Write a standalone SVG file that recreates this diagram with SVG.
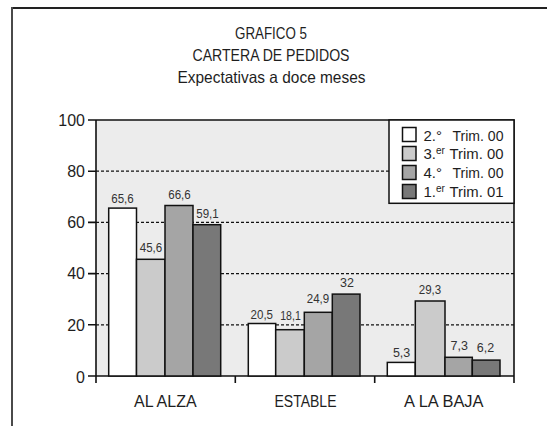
<svg xmlns="http://www.w3.org/2000/svg" width="547" height="426" viewBox="0 0 547 426">
<style>
text{font-family:"Liberation Sans",Arial,sans-serif;fill:#1e1e1e}
.title{font-size:16.5px;text-anchor:middle}
.ylab{font-size:16px;text-anchor:end}
.cat{font-size:16px;text-anchor:middle}
.val{font-size:12.5px;text-anchor:middle;fill:#333}
.leg{font-size:15px}
.sup{font-size:10px}
.bar{stroke:#111;stroke-width:1.5}
.c1{fill:#ffffff}.c2{fill:#cbcbcb}.c3{fill:#a5a5a5}.c4{fill:#787878}
.grid{stroke:#111;stroke-width:1.3;stroke-dasharray:3 2}
.ax{stroke:#111;stroke-width:1.6;fill:none}
</style>
<rect width="547" height="426" fill="#ffffff"/>
<g id="frame">
<line x1="11" y1="8" x2="547" y2="8" stroke="#222" stroke-width="2"/>
<line x1="12" y1="7" x2="12" y2="426" stroke="#4a4a4a" stroke-width="2"/>
</g>
<g id="title">
<text class="title" x="271" y="39" textLength="72" lengthAdjust="spacingAndGlyphs">GRAFICO 5</text>
<text class="title" x="271" y="61" textLength="157" lengthAdjust="spacingAndGlyphs">CARTERA DE PEDIDOS</text>
<text class="title" x="271.5" y="83" textLength="188" lengthAdjust="spacingAndGlyphs">Expectativas a doce meses</text>
</g>
<g id="plot-area">
<rect x="96" y="120" width="418" height="256" fill="#ececec"/>
</g>
<g id="gridlines">
<line class="grid" x1="96" y1="171.2" x2="514" y2="171.2"/>
<line class="grid" x1="96" y1="222.4" x2="514" y2="222.4"/>
<line class="grid" x1="96" y1="273.6" x2="514" y2="273.6"/>
<line class="grid" x1="96" y1="324.8" x2="514" y2="324.8"/>
</g>
<g id="connectors">
<path class="ax" d="M88,120H514V383M96,120V383M88,376H514M88,171.2H96M88,222.4H96M88,273.6H96M88,324.8H96M235.3,376V383M374.7,376V383"/>
</g>
<g id="y-labels">
<text class="ylab" x="85" y="126">100</text>
<text class="ylab" x="85" y="177">80</text>
<text class="ylab" x="85" y="228.2">60</text>
<text class="ylab" x="85" y="279.4">40</text>
<text class="ylab" x="85" y="330.6">20</text>
<text class="ylab" x="85" y="382.5">0</text>
</g>
<g id="al-alza">
<rect class="bar c1" x="108.7" y="208.1" width="27.8" height="167.9"/>
<rect class="bar c2" x="136.5" y="259.3" width="28.5" height="116.7"/>
<rect class="bar c3" x="165" y="205.5" width="28" height="170.5"/>
<rect class="bar c4" x="193" y="224.7" width="27.7" height="151.3"/>
<text class="val" x="122.5" y="202.5" textLength="22.5" lengthAdjust="spacingAndGlyphs">65,6</text>
<text class="val" x="151" y="252" textLength="22.5" lengthAdjust="spacingAndGlyphs">45,6</text>
<text class="val" x="179.5" y="199.2" textLength="22.5" lengthAdjust="spacingAndGlyphs">66,6</text>
<text class="val" x="207.5" y="217.6" textLength="22.5" lengthAdjust="spacingAndGlyphs">59,1</text>
</g>
<g id="estable">
<rect class="bar c1" x="248.3" y="323.5" width="27.4" height="52.5"/>
<rect class="bar c2" x="275.7" y="329.7" width="28.6" height="46.3"/>
<rect class="bar c3" x="304.3" y="312.3" width="28" height="63.7"/>
<rect class="bar c4" x="332.3" y="294.1" width="27.7" height="81.9"/>
<text class="val" x="261.8" y="319.4" textLength="22.5" lengthAdjust="spacingAndGlyphs">20,5</text>
<text class="val" x="290.5" y="320" textLength="20.5" lengthAdjust="spacingAndGlyphs">18,1</text>
<text class="val" x="318" y="303.4" textLength="22.5" lengthAdjust="spacingAndGlyphs">24,9</text>
<text class="val" x="347" y="286.8">32</text>
</g>
<g id="a-la-baja">
<rect class="bar c1" x="387.3" y="362.4" width="28" height="13.6"/>
<rect class="bar c2" x="415.3" y="301" width="29.7" height="75"/>
<rect class="bar c3" x="445" y="357.3" width="27.3" height="18.7"/>
<rect class="bar c4" x="472.3" y="360.1" width="27.7" height="15.9"/>
<text class="val" x="401.6" y="356.8">5,3</text>
<text class="val" x="430" y="294.2" textLength="22.5" lengthAdjust="spacingAndGlyphs">29,3</text>
<text class="val" x="459.3" y="349.5">7,3</text>
<text class="val" x="485.5" y="351.8">6,2</text>
</g>
<g id="category-labels">
<text class="cat" x="165.3" y="406.5">AL ALZA</text>
<text class="cat" x="305.5" y="406.5" textLength="62" lengthAdjust="spacingAndGlyphs">ESTABLE</text>
<text class="cat" x="443.8" y="406.5" textLength="79.5" lengthAdjust="spacingAndGlyphs">A LA BAJA</text>
</g>
<g id="legend">
<rect x="389" y="120" width="125" height="83.3" fill="#ffffff" stroke="#111" stroke-width="1.5"/>
<rect class="bar c1" x="402.5" y="127.5" width="13.5" height="14"/>
<rect class="bar c2" x="402.5" y="146.5" width="13.5" height="14"/>
<rect class="bar c3" x="402.5" y="165.5" width="13.5" height="14"/>
<rect class="bar c4" x="402.5" y="184.5" width="13.5" height="14"/>
<text class="leg" x="423.5" y="140.6">2.°</text>
<text class="leg" x="503.5" y="140.6" text-anchor="end" textLength="51" lengthAdjust="spacingAndGlyphs">Trim. 00</text>
<text class="leg" x="423.5" y="159.2">3.<tspan class="sup" dy="-5">er</tspan></text>
<text class="leg" x="503.5" y="159.2" text-anchor="end" textLength="54" lengthAdjust="spacingAndGlyphs">Trim. 00</text>
<text class="leg" x="423.5" y="178">4.°</text>
<text class="leg" x="503.5" y="178" text-anchor="end" textLength="51" lengthAdjust="spacingAndGlyphs">Trim. 00</text>
<text class="leg" x="423.5" y="196.7">1.<tspan class="sup" dy="-5">er</tspan></text>
<text class="leg" x="503.5" y="196.7" text-anchor="end" textLength="54" lengthAdjust="spacingAndGlyphs">Trim. 01</text>
</g>
</svg>
